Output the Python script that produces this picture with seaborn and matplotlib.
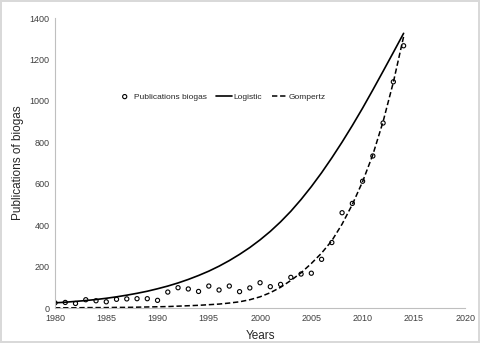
import numpy as np
import pandas as pd
import seaborn as sns
import matplotlib.pyplot as plt

# data
years = list(range(1980, 2015))

publications = [25, 27, 22, 40, 35, 30, 42, 44, 45, 45,
                37, 77, 98, 92, 80, 106, 87, 106, 79, 97,
                122, 103, 114, 148, 164, 168, 235, 316, 460, 505,
                612, 734, 893, 1092, 1266]

logistic = [25, 28, 32, 36, 41, 47, 54, 62, 71, 81,
            93, 106, 121, 138, 157, 178, 202, 229, 259, 292,
            329, 370, 416, 467, 524, 586, 653, 725, 801, 881,
            965, 1053, 1143, 1234, 1326]

gompertz = [1, 1, 1, 2, 2, 2, 3, 3, 4, 5,
            6, 7, 9, 11, 13, 16, 19, 24, 30, 40,
            54, 74, 100, 133, 170, 215, 265, 325, 405, 500,
            610, 740, 900, 1090, 1310]

df = pd.DataFrame({"year": years, "pubs": publications,
                   "logistic": logistic, "gompertz": gompertz})

sns.set_theme(style="white")
plt.rcParams['font.family'] = ['Liberation Sans', 'DejaVu Sans']

fig = plt.figure(figsize=(4.8, 3.43), dpi=100)
fig.patch.set_edgecolor('#d9d9d9')
fig.patch.set_linewidth(1.5)
ax = fig.add_axes([0.1146, 0.102, 0.8544, 0.8455])

sns.scatterplot(data=df, x="year", y="pubs", ax=ax, marker='o',
                facecolor='none', edgecolor='black', linewidth=0.8, s=9,
                label='Publications biogas')
sns.lineplot(data=df, x="year", y="logistic", ax=ax, color='black',
             linewidth=1.2, label='Logistic')
sns.lineplot(data=df, x="year", y="gompertz", ax=ax, color='black',
             linewidth=1.1, linestyle=(0, (3.5, 1.8)), label='Gompertz')

ax.set_xlim(1980, 2020)
ax.set_ylim(0, 1400)
ax.set_xticks(range(1980, 2021, 5))
ax.set_yticks(range(0, 1401, 200))
ax.tick_params(labelsize=6.5, length=0, pad=4, colors='#404040')
ax.set_xlabel('Years', fontsize=8.5, color='#262626', labelpad=5)
ax.set_ylabel('Publications of biogas', fontsize=8.5, color='#262626', labelpad=4)

for s in ['top', 'right']:
    ax.spines[s].set_visible(False)
for s in ['left', 'bottom']:
    ax.spines[s].set_color('#bfbfbf')
    ax.spines[s].set_linewidth(0.8)

ax.legend(loc='center', bbox_to_anchor=(0.406, 0.728), ncol=3, frameon=False,
          fontsize=6, handlelength=1.9, columnspacing=1.1, handletextpad=0.2)

fig.savefig('out.png', dpi=100)
